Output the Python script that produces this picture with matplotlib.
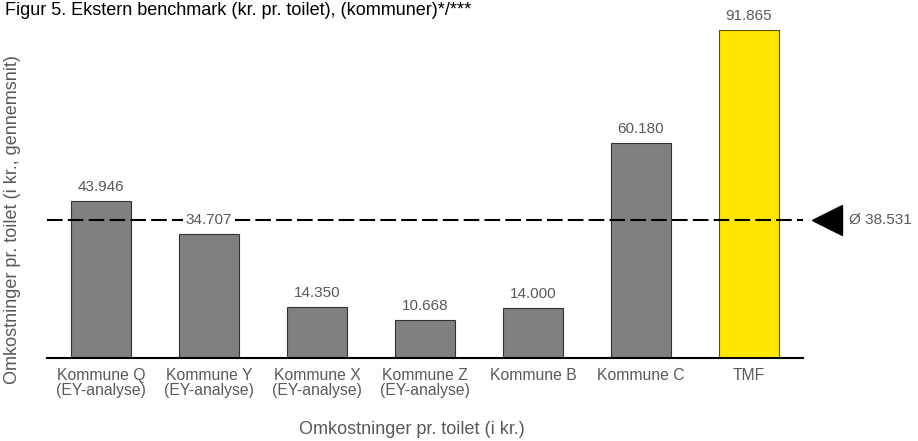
import matplotlib
matplotlib.use("Agg")
import matplotlib.pyplot as plt

plt.rcParams["font.family"] = ["Liberation Sans", "DejaVu Sans"]

categories = ["Kommune Q\n(EY-analyse)", "Kommune Y\n(EY-analyse)", "Kommune X\n(EY-analyse)",
              "Kommune Z\n(EY-analyse)", "Kommune B", "Kommune C", "TMF"]
values = [43946, 34707, 14350, 10668, 14000, 60180, 91865]
average = 38531
highlight = "TMF"

GREY_TXT = "#595959"


def dk(v):
    # Danish thousands separator
    return f"{v:,}".replace(",", ".")


fig = plt.figure(figsize=(9.18, 4.41), dpi=100)
W, H = 918, 441
ax = fig.add_axes([47 / W, (H - 358) / H, (803 - 47) / W, 328 / H])

x = range(len(categories))
colors = ["#ffe600" if c == highlight else "#808080" for c in categories]
edges = ["#5a5200" if c == highlight else "#333333" for c in categories]
ax.bar(x, values, width=0.556, color=colors, edgecolor=edges, linewidth=0.8, zorder=2)

for xi, v in zip(x, values):
    ax.annotate(dk(v), (xi, v), xytext=(0, 5), textcoords="offset points",
                ha="center", va="bottom", fontsize=11, color=GREY_TXT, zorder=5,
                bbox=dict(boxstyle="square,pad=0.2", fc="white", ec="none"))

# average line with marker and label to the right
avg_line = ax.axhline(average, color="black", lw=1.5, zorder=3)
avg_line.set_dashes((7.5, 2.5))
ax.plot([6.72], [average], marker="<", markersize=22, color="black", clip_on=False)
ax.text(6.93, average, f"Ø {dk(average)}", ha="left", va="center",
        fontsize=11, color=GREY_TXT)

ax.set_xlim(-0.5, 6.5)
ax.set_ylim(0, 91865)
ax.set_xticks(list(x))
ax.set_xticklabels(categories, fontsize=11.3, color=GREY_TXT, linespacing=1.05)
ax.tick_params(axis="x", length=0, pad=7)
ax.set_yticks([])
for s in ["top", "right", "left"]:
    ax.spines[s].set_visible(False)
ax.spines["bottom"].set_linewidth(1.5)

fig.text(412 / W, 1 - 430 / H, "Omkostninger pr. toilet (i kr.)", ha="center", va="center",
         fontsize=13, color=GREY_TXT)
fig.text(13 / W, 1 - 220 / H, "Omkostninger pr. toilet (i kr., gennemsnit)", rotation=90,
         ha="center", va="center", fontsize=13, color=GREY_TXT)
fig.text(5 / W, 1 - 15 / H, "Figur 5. Ekstern benchmark (kr. pr. toilet), (kommuner)*/***",
         ha="left", va="baseline", fontsize=13, color="black")

fig.savefig("out.png", dpi=100)
